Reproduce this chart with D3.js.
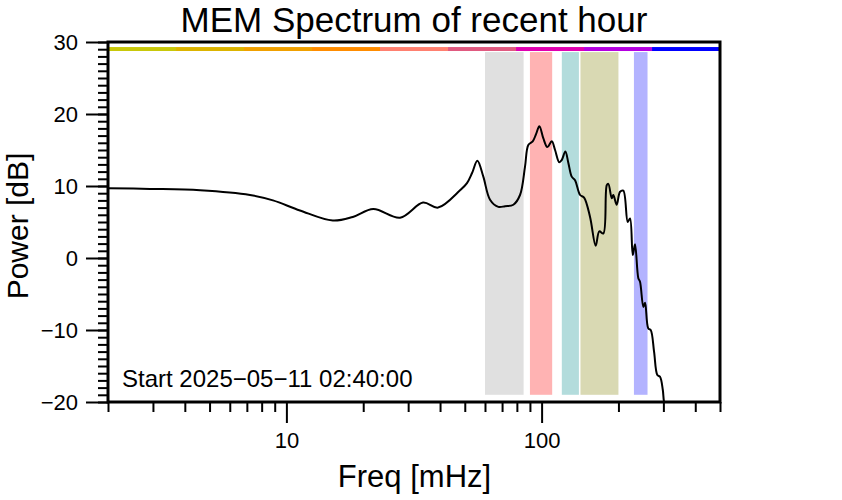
<!DOCTYPE html>
<html><head><meta charset="utf-8">
<script src="https://cdn.jsdelivr.net/npm/d3@7"></script>
<style>body{margin:0;background:#fff} svg{display:block} text{font-family:"Liberation Sans",Arial,Helvetica,sans-serif;fill:#000}</style>
</head><body><svg id="c" width="842" height="500"></svg>
<script>
// ---- data ----
const freqs = [2.0,2.92,4.59,7.2,8.86,11.3,15.2,18.2,21.9,27.9,34.3,39.3,47.9,51.0,53.4,56.0,59.1,62.8,67.7,71.9,77.5,82.3,86.1,88.7,92.3,95.1,98.0,101.6,105.3,109.6,112.9,117.3,119.9,123.9,127.3,131.2,135.2,141.5,146.7,154.8,162.9,168.3,174.5,180.0,182.6,188.3,191.0,196.9,202.9,209.0,217.5,222.1,227.6,232.3,239.3,243.0,250.4,254.3,261.8,267.6,275.8,284.1,291.1,298.4,301.8,310];
const power = [9.7,9.6,9.4,8.75,8.0,6.6,5.2,5.7,6.8,5.6,7.7,7.0,9.4,10.4,11.8,13.5,11.3,8.1,7.1,7.2,7.4,8.75,12.7,15.7,16.2,17.2,18.3,16.6,15.4,16.2,15.0,13.3,13.6,14.8,13.2,11.3,10.8,8.75,8.4,5.7,1.7,3.7,3.4,10.1,10.3,8.3,8.75,7.4,9.2,9.35,5.0,5.5,0.4,1.9,-2.8,-3.3,-6.8,-6.2,-9.8,-10.0,-13.0,-16.25,-16.5,-18.3,-20,-21.5];
const xMajorTicks = [10,100];
const xMinorTicks = [2,3,4,5,6,7,8,9,20,30,40,50,60,70,80,90,200,300,400,500];
const yMajorTicks = [-20,-10,0,10,20,30];
const yMinorTicks = d3.range(-20,31,1);
const bandStart = [60,90,120,142,230];
const bandEnd = [85,110,140,200,260];
const bandColors = ["#e0e0e0","#ffb3b3","#b3dcdc","#d9d9b3","#b3b3ff"];
const barEdges = [2,3.694,6.822,12.60,23.27,42.98,79.38,146.6,270.8,500];
const barColors = ["#c8c80a","#dcb400","#f0a000","#ff8c00","#ff8070","#e05a80","#e000b0","#b400e0","#0000ff"];
const title = "MEM Spectrum of recent hour";
const xLabel = "Freq [mHz]";
const yLabel = "Power [dB]";
const note = "Start 2025\u221205\u221211 02:40:00";

// ---- layout ----
const L=108, R=720, T=42, B=402;
const svg = d3.select("#c");
const x = d3.scaleLog().domain([2,500]).range([L,R]);
const y = d3.scaleLinear().domain([-20,30]).range([B,T]);

svg.append("clipPath").attr("id","clip").append("rect")
  .attr("x",L).attr("y",T).attr("width",R-L).attr("height",B-T);

// bands
const bands = bandStart.map((s,i)=>({s, e:bandEnd[i], c:bandColors[i]}));
svg.append("g").selectAll("rect").data(bands).join("rect")
  .attr("x",d=>x(d.s)).attr("width",d=>x(d.e)-x(d.s))
  .attr("y",y(28.6)).attr("height",y(-19)-y(28.6))
  .attr("fill",d=>d.c);

// color bar
const segs = barColors.map((c,i)=>({a:barEdges[i], b:barEdges[i+1], c}));
svg.append("g").selectAll("rect").data(segs).join("rect")
  .attr("x",d=>x(d.a)).attr("width",d=>x(d.b)-x(d.a))
  .attr("y",y(29.3)).attr("height",y(28.75)-y(29.3))
  .attr("fill",d=>d.c);

// curve
const pts = freqs.map((f,i)=>[f,power[i]]);
svg.append("path").datum(pts)
  .attr("clip-path","url(#clip)")
  .attr("fill","none").attr("stroke","#000").attr("stroke-width",2)
  .attr("stroke-linejoin","round")
  .attr("d", d3.line().x(d=>x(d[0])).y(d=>y(d[1])).curve(d3.curveCatmullRom.alpha(0.5)));

// axes
function styleAxis(g){
  g.select(".domain").remove();
  g.selectAll("line").attr("stroke","#000").attr("stroke-width",2);
  g.selectAll("text").attr("font-size","22px").attr("fill","#000")
   .attr("font-family","'Liberation Sans',Arial,sans-serif");
}
svg.append("g").attr("transform",`translate(0,${B})`)
  .call(d3.axisBottom(x).tickValues(xMinorTicks).tickSize(10).tickFormat(""))
  .call(styleAxis);
svg.append("g").attr("transform",`translate(0,${B})`)
  .call(d3.axisBottom(x).tickValues(xMajorTicks).tickSize(21).tickPadding(9).tickFormat(d3.format("d")))
  .call(styleAxis);
svg.append("g").attr("transform",`translate(${L},0)`)
  .call(d3.axisLeft(y).tickValues(yMinorTicks).tickSize(10).tickFormat(""))
  .call(styleAxis);
svg.append("g").attr("transform",`translate(${L},0)`)
  .call(d3.axisLeft(y).tickValues(yMajorTicks).tickSize(22).tickPadding(8).tickFormat(d3.format("d")))
  .call(styleAxis);

// frame
svg.append("rect").attr("x",L).attr("y",T).attr("width",R-L).attr("height",B-T)
  .attr("fill","none").attr("stroke","#000").attr("stroke-width",3);

// texts
svg.append("text").attr("x",414).attr("y",32).attr("text-anchor","middle")
  .attr("font-size","35px").text(title);
svg.append("text").attr("x",414.5).attr("y",487).attr("text-anchor","middle")
  .attr("font-size","31px").text(xLabel);
svg.append("text").attr("transform","translate(28,226) rotate(-90)").attr("text-anchor","middle")
  .attr("font-size","30px").text(yLabel);
svg.append("text").attr("x",122).attr("y",387).attr("font-size","24px").text(note);
</script></body></html>
